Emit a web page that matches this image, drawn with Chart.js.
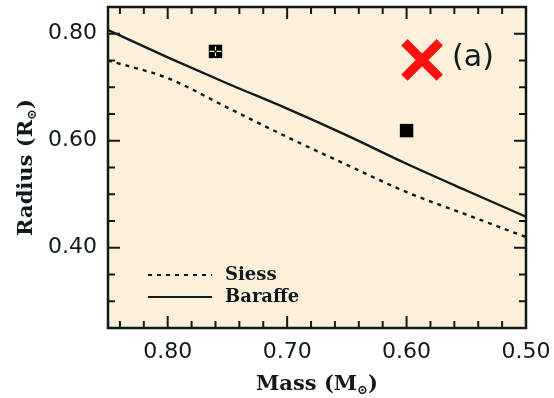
<!DOCTYPE html>
<html>
<head>
<meta charset="utf-8">
<script src="https://cdn.jsdelivr.net/npm/chart.js@4.4.1/dist/chart.umd.min.js"></script>
<style>
  html, body { margin: 0; padding: 0; background: #fff; }
  #wrap { position: relative; width: 554px; height: 398px; }
</style>
</head>
<body>
<div id="wrap"><canvas id="grafico"></canvas></div>
<script>
// isocronas (radio vs masa)
const masas = [0.85, 0.80, 0.75, 0.70, 0.65, 0.60, 0.55, 0.50];
const radioSiess = [0.750, 0.717, 0.662, 0.607, 0.555, 0.504, 0.462, 0.420];
const radioBaraffe = [0.807, 0.756, 0.707, 0.660, 0.610, 0.557, 0.507, 0.458];

// componentes medidas
const masaEstrella = [0.76, 0.60];
const radioEstrella = [0.767, 0.619];
const errMasa = [0.005, 0];
const errRadio = [0.009, 0];

// marca roja
const masaMarca = [0.587];
const radioMarca = [0.751];
const textoMarca = "(a)";

const ticksX = [0.80, 0.70, 0.60, 0.50];
const ticksY = [0.40, 0.60, 0.80];

const tinta = "#111a1a";
const fondo = "#fdf0da";

function puntos(xs, ys) {
  return xs.map((x, i) => ({ x: x, y: ys[i] }));
}

// fondo, marco, ticks hacia dentro, titulos, leyenda y errores
const decorado = {
  id: "decorado",
  beforeDraw(chart) {
    const ctx = chart.ctx, a = chart.chartArea;
    ctx.save();
    ctx.fillStyle = fondo;
    ctx.fillRect(a.left, a.top, a.right - a.left, a.bottom - a.top);
    ctx.restore();
  },
  afterDatasetsDraw(chart) {
    const ctx = chart.ctx, a = chart.chartArea;
    const sx = chart.scales.x, sy = chart.scales.y;
    ctx.save();

    // barras de error (en color de fondo sobre el cuadrado)
    ctx.strokeStyle = fondo;
    ctx.lineWidth = 1.2;
    masaEstrella.forEach((m, i) => {
      if (!errMasa[i] && !errRadio[i]) return;
      const px = sx.getPixelForValue(m), py = sy.getPixelForValue(radioEstrella[i]);
      const dx = Math.abs(sx.getPixelForValue(m + errMasa[i]) - px);
      const dy = Math.abs(sy.getPixelForValue(radioEstrella[i] + errRadio[i]) - py);
      ctx.beginPath();
      ctx.moveTo(px - dx, py); ctx.lineTo(px + dx, py);
      ctx.moveTo(px, py - dy); ctx.lineTo(px, py + dy);
      ctx.stroke();
      ctx.fillStyle = tinta;
      ctx.fillRect(px - 1.2, py - 1.2, 2.4, 2.4);
    });

    // ticks
    ctx.strokeStyle = tinta;
    ctx.lineWidth = 2;
    ctx.beginPath();
    for (let k = 0; k <= 17; k++) {
      const v = 0.50 + k * 0.02;
      if (v > 0.851) break;
      const px = sx.getPixelForValue(v);
      const largo = (Math.round(v * 100) % 10 === 0) ? 12 : 7;
      ctx.moveTo(px, a.bottom); ctx.lineTo(px, a.bottom - largo);
      ctx.moveTo(px, a.top); ctx.lineTo(px, a.top + largo);
    }
    for (let k = 0; k <= 12; k++) {
      const v = 0.25 + k * 0.05;
      const py = sy.getPixelForValue(v);
      const largo = (Math.round(v * 100) % 20 === 0) ? 12 : 7;
      ctx.moveTo(a.left, py); ctx.lineTo(a.left + largo, py);
      ctx.moveTo(a.right, py); ctx.lineTo(a.right - largo, py);
    }
    ctx.stroke();

    // marco
    ctx.lineWidth = 2.5;
    ctx.strokeRect(a.left, a.top, a.right - a.left, a.bottom - a.top);

    // texto junto a la marca
    ctx.fillStyle = tinta;
    ctx.font = "30px 'DejaVu Sans'";
    ctx.textBaseline = "middle";
    ctx.textAlign = "left";
    ctx.fillText(textoMarca, sx.getPixelForValue(masaMarca[0]) + 30, sy.getPixelForValue(radioMarca[0]) - 2);

    // leyenda
    ctx.font = "bold 18px 'DejaVu Serif'";
    let yl = a.bottom - 53;
    chart.data.datasets.filter(d => d.showLine).forEach(d => {
      ctx.strokeStyle = d.borderColor;
      ctx.lineWidth = 2.2;
      ctx.setLineDash(d.borderDash || []);
      ctx.beginPath();
      ctx.moveTo(a.left + 40, yl); ctx.lineTo(a.left + 104, yl);
      ctx.stroke();
      ctx.setLineDash([]);
      ctx.fillText(d.label, a.left + 117, yl);
      yl += 22;
    });

    // titulos de ejes con subindice
    const titulo = (base, letra, cx, cy) => {
      ctx.font = "bold 21px 'DejaVu Serif'";
      const w1 = ctx.measureText(base + letra).width;
      ctx.font = "bold 13px 'DejaVu Serif'";
      const w2 = ctx.measureText("\u2299").width;
      ctx.font = "bold 21px 'DejaVu Serif'";
      const w3 = ctx.measureText(")").width;
      let x0 = cx - (w1 + w2 + w3) / 2;
      ctx.textAlign = "left";
      ctx.textBaseline = "alphabetic";
      ctx.fillText(base + letra, x0, cy);
      ctx.font = "bold 13px 'DejaVu Serif'";
      ctx.fillText("\u2299", x0 + w1, cy + 4);
      ctx.font = "bold 21px 'DejaVu Serif'";
      ctx.fillText(")", x0 + w1 + w2, cy);
    };
    const cx = (a.left + a.right) / 2;
    titulo("Mass (", "M", cx, 390);
    ctx.translate(32, (a.top + a.bottom) / 2);
    ctx.rotate(-Math.PI / 2);
    titulo("Radius (", "R", 0, 0);
    ctx.restore();
  }
};

new Chart(document.getElementById("grafico"), {
  type: "scatter",
  data: {
    datasets: [
      {
        label: "Siess",
        data: puntos(masas, radioSiess),
        showLine: true,
        cubicInterpolationMode: "monotone",
        borderColor: tinta,
        borderWidth: 2.4,
        borderDash: [4, 5],
        pointRadius: 0
      },
      {
        label: "Baraffe",
        data: puntos(masas, radioBaraffe),
        showLine: true,
        cubicInterpolationMode: "monotone",
        borderColor: tinta,
        borderWidth: 2.4,
        pointRadius: 0
      },
      {
        label: "Estrellas",
        data: puntos(masaEstrella, radioEstrella),
        pointStyle: "rect",
        pointRadius: 9.5,
        backgroundColor: "#000",
        borderColor: "#000",
        borderWidth: 0
      },
      {
        label: "Marca",
        data: puntos(masaMarca, radioMarca),
        pointStyle: "crossRot",
        pointRadius: 25,
        borderColor: "#ff1010",
        borderWidth: 9
      }
    ]
  },
  options: {
    responsive: true,
    maintainAspectRatio: false,
    animation: false,
    layout: { autoPadding: false, padding: { top: 7, right: 28, left: 0, bottom: 0 } },
    plugins: { legend: { display: false }, tooltip: { enabled: false } },
    scales: {
      x: {
        type: "linear",
        reverse: true,
        min: 0.50,
        max: 0.85,
        afterBuildTicks: s => { s.ticks = ticksX.map(v => ({ value: v })); },
        afterFit: s => { s.height = 70; s.paddingLeft = 0; s.paddingRight = 0; },
        grid: { display: false, drawTicks: false },
        border: { display: false },
        ticks: {
          padding: 11,
          color: tinta,
          font: { family: "'DejaVu Sans'", size: 22 },
          callback: v => v.toFixed(2)
        }
      },
      y: {
        type: "linear",
        min: 0.25,
        max: 0.85,
        afterBuildTicks: s => { s.ticks = ticksY.map(v => ({ value: v })); },
        afterFit: s => { s.width = 108; s.paddingTop = 0; s.paddingBottom = 0; },
        grid: { display: false, drawTicks: false },
        border: { display: false },
        ticks: {
          padding: 11,
          color: tinta,
          font: { family: "'DejaVu Sans'", size: 22 },
          callback: v => v.toFixed(2)
        }
      }
    }
  },
  plugins: [decorado]
});
</script>
</body>
</html>
